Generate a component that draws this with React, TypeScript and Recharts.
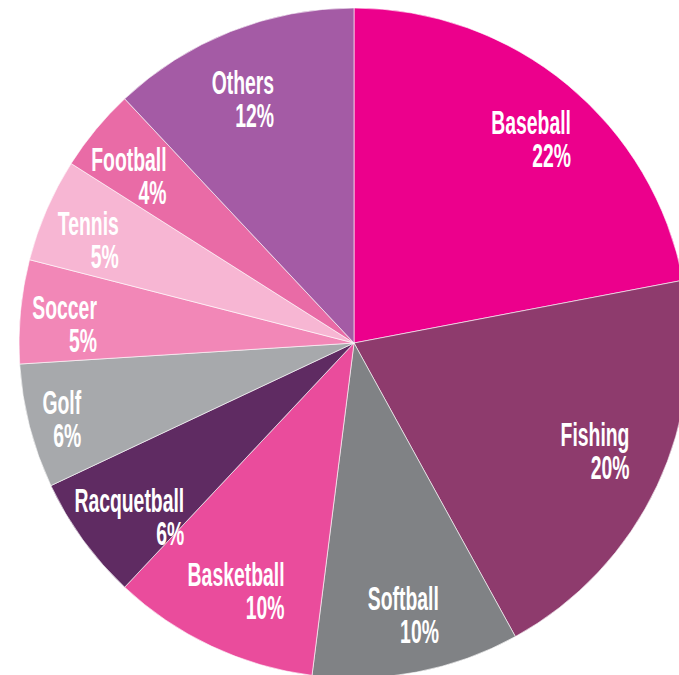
import React from 'react';
import { PieChart, Pie, Cell } from 'recharts';

const categories = ['Baseball', 'Fishing', 'Softball', 'Basketball', 'Racquetball', 'Golf', 'Soccer', 'Tennis', 'Football', 'Others'];
const shares = [22, 20, 10, 10, 6, 6, 5, 5, 4, 12];
const colors = ['#EC008C', '#8E3B6D', '#808285', '#EA4C9C', '#5F2B62', '#A7A9AC', '#F287B7', '#F7B6D3', '#E96BA6', '#A45BA5'];

// label placement (layout config): distance from centre and a small angular nudge (deg, clockwise)
const labelRadii = [270, 264, 276, 275, 284, 302, 290, 285, 280, 268];
const labelAngleShift = [1.4, -1.1, 0.5, 0.2, -1.7, -0.2, -1.7, -2.2, -3.1, -2.9];

const data = categories.map((name, i) => ({ name, value: shares[i] }));

const FONT = '"Liberation Sans", Arial, sans-serif';
const FONT_SIZE = 34;
const FONT_WEIGHT = 'bold';
const SX = 0.57;

let ctx: CanvasRenderingContext2D | null = null;
function measure(t: string) {
  if (!ctx) ctx = document.createElement('canvas').getContext('2d');
  if (!ctx) return t.length * FONT_SIZE * 0.5;
  ctx.font = `${FONT_WEIGHT} ${FONT_SIZE}px ${FONT}`;
  return ctx.measureText(t).width;
}

const renderLabel = (props: any) => {
  const { cx, cy, midAngle, index } = props;
  const r = labelRadii[index];
  const ang = midAngle - labelAngleShift[index];
  const rad = (-ang * Math.PI) / 180;
  const x = cx + r * Math.cos(rad);
  const y = cy + r * Math.sin(rad);
  const name = categories[index];
  const pct = `${shares[index]}%`;
  const w = Math.max(measure(name), measure(pct)) * SX;
  const xr = x + w / 2;
  return (
    <g key={`lbl-${index}`} transform={`translate(${xr},${y}) scale(${SX},1)`}>
      <text textAnchor="end" fill="#ffffff" fontFamily={FONT} fontSize={FONT_SIZE} fontWeight={FONT_WEIGHT}>
        <tspan x={0} y={-5}>{name}</tspan>
        <tspan x={0} y={28}>{pct}</tspan>
      </text>
    </g>
  );
};

export default function App() {
  return (
    <div style={{ position: 'absolute', left: 0, top: 0, width: 679, height: 675, background: '#ffffff' }}>
      <PieChart width={679} height={675} margin={{ top: 0, right: 0, bottom: 0, left: 0 }}>
        <Pie
          data={data}
          dataKey="value"
          nameKey="name"
          cx={354}
          cy={343}
          outerRadius={335}
          innerRadius={0}
          startAngle={90}
          endAngle={-270}
          stroke="#ffffff"
          strokeWidth={1}
          strokeOpacity={0.6}
          label={renderLabel}
          labelLine={false}
          isAnimationActive={false}
        >
          {data.map((d, i) => (
            <Cell key={d.name} fill={colors[i]} />
          ))}
        </Pie>
      </PieChart>
    </div>
  );
}
